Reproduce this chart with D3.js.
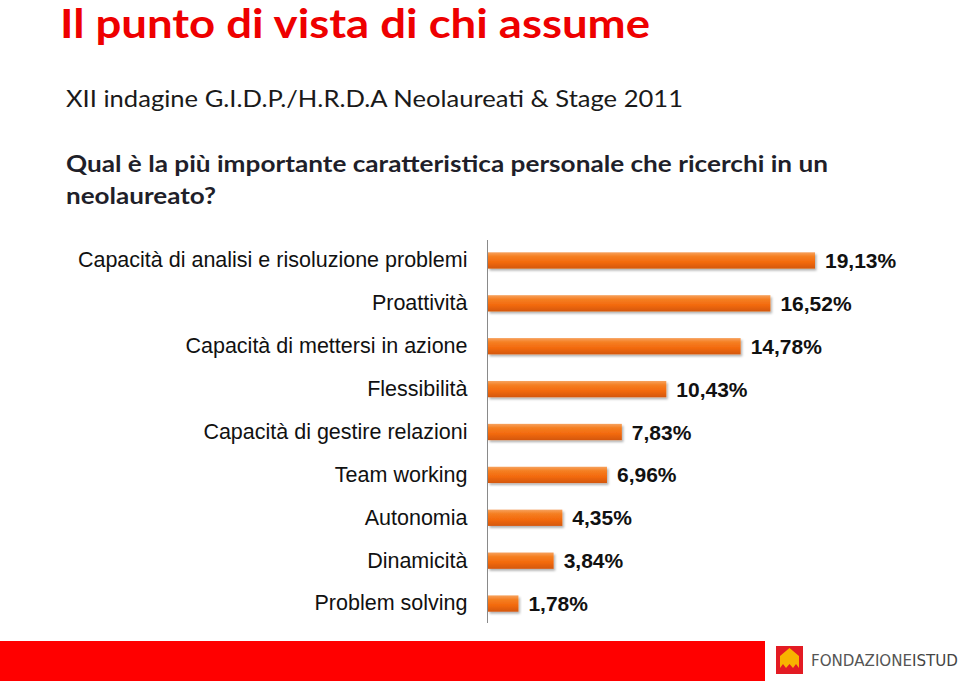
<!DOCTYPE html>
<html><head><meta charset="utf-8">
<script src="https://cdn.jsdelivr.net/npm/d3@7"></script>
<style>html,body{margin:0;padding:0;background:#fff;}svg{display:block;}</style>
</head><body>
<script>
const categories = ["Capacità di analisi e risoluzione problemi","Proattività","Capacità di mettersi in azione","Flessibilità","Capacità di gestire relazioni","Team working","Autonomia","Dinamicità","Problem solving"];
const values = [19.13,16.52,14.78,10.43,7.83,6.96,4.35,3.84,1.78];
const valueLabels = ["19,13%","16,52%","14,78%","10,43%","7,83%","6,96%","4,35%","3,84%","1,78%"];
const title = "Il punto di vista di chi assume";
const subtitle = "XII indagine G.I.D.P./H.R.D.A  Neolaureati & Stage 2011";
const question = ["Qual è la più importante caratteristica personale che ricerchi in un","neolaureato?"];

const W=960,H=682;
const svg=d3.select("body").append("svg").attr("width",W).attr("height",H);
const defs=svg.append("defs");
const g=defs.append("linearGradient").attr("id","bar").attr("x1",0).attr("y1",0).attr("x2",0).attr("y2",1);
[[0,"#f7a25e"],[0.25,"#f57f22"],[0.6,"#f36a0e"],[1,"#d4570a"]].forEach(s=>g.append("stop").attr("offset",s[0]).attr("stop-color",s[1]));
const f=defs.append("filter").attr("id","sh").attr("x","-5%").attr("y","-30%").attr("width","115%").attr("height","180%");
f.append("feDropShadow").attr("dx",1.5).attr("dy",2).attr("stdDeviation",1.2).attr("flood-color","#000").attr("flood-opacity",0.3);

svg.append("text").attr("x",60).attr("y",38).attr("fill","#ee0000")
  .attr("font-family","Lato, 'Open Sans', sans-serif").attr("font-weight","bold").attr("font-size",40)
  .attr("textLength",590).attr("lengthAdjust","spacingAndGlyphs").text(title);
svg.append("text").attr("x",66).attr("y",107).attr("fill","#1a1a1a")
  .attr("font-family","Lato, 'Open Sans', sans-serif").attr("font-size",23)
  .attr("textLength",617).attr("lengthAdjust","spacingAndGlyphs").text(subtitle);
svg.append("text").attr("x",66).attr("y",172).attr("fill","#1f1f2a")
  .attr("font-family","Lato, 'Open Sans', sans-serif").attr("font-weight","bold").attr("font-size",23)
  .attr("textLength",762).attr("lengthAdjust","spacingAndGlyphs").text(question[0]);
svg.append("text").attr("x",66).attr("y",204).attr("fill","#1f1f2a")
  .attr("font-family","Lato, 'Open Sans', sans-serif").attr("font-weight","bold").attr("font-size",23)
  .attr("textLength",150).attr("lengthAdjust","spacingAndGlyphs").text(question[1]);

const x0=488;
const x=d3.scaleLinear().domain([0,19.13]).range([x0,815]);
const y=d3.scaleBand().domain(categories).range([239,625]).paddingInner(0.62).paddingOuter(0.31);

const yAxis=d3.axisLeft(y).tickSize(0).tickPadding(20);
const ax=svg.append("g").attr("transform",`translate(${x0-0.5},0)`).call(yAxis);
ax.select(".domain").attr("stroke","#8a8a8a").attr("stroke-width",1).attr("d","M0,240V623");
ax.selectAll("text").attr("font-family","'Liberation Sans', Arial, sans-serif").attr("font-size",21.5).attr("fill","#111");

svg.append("g").selectAll("rect").data(values).join("rect")
  .attr("x",x0).attr("y",(d,i)=>y(categories[i])).attr("width",d=>x(d)-x0).attr("height",y.bandwidth())
  .attr("fill","url(#bar)").attr("filter","url(#sh)");

svg.append("g").selectAll("text").data(values).join("text")
  .attr("x",d=>x(d)+10).attr("y",(d,i)=>y(categories[i])+y.bandwidth()/2).attr("dy","0.36em")
  .attr("font-family","'Liberation Sans', Arial, sans-serif").attr("font-weight","bold").attr("font-size",21).attr("fill","#111")
  .text((d,i)=>valueLabels[i]);

// footer
svg.append("rect").attr("x",0).attr("y",641).attr("width",765).attr("height",40).attr("fill","#ff0000");
svg.append("rect").attr("x",776).attr("y",646).attr("width",27).attr("height",28).attr("fill","#e31b23");
svg.append("path").attr("d","M780,668 L780,656 L789.5,648 L799,656 L799,668 L796,664 L793,668 L789.5,664 L786,668 L783,664 Z").attr("fill","#f8b400");
const ft=svg.append("text").attr("x",811).attr("y",666).attr("font-family","'Liberation Sans Narrow','DejaVu Sans Condensed',sans-serif").attr("font-size",16)
  .attr("textLength",147).attr("lengthAdjust","spacingAndGlyphs");
ft.append("tspan").attr("fill","#555").text("FONDAZIONE");
ft.append("tspan").attr("fill","#444").text("ISTUD");
</script>
</body></html>
